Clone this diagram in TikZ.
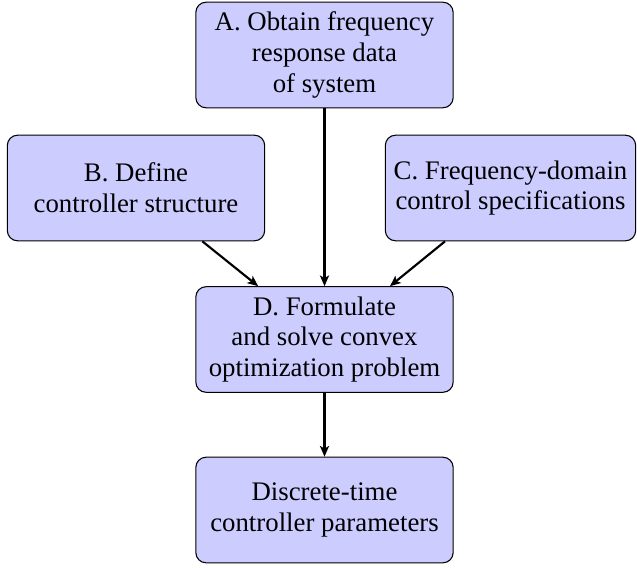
\documentclass[tikz,border=0pt]{standalone}
\usepackage{fontspec}
\setmainfont{LiberationSerif}[Extension=.ttf, UprightFont=*-Regular, BoldFont=*-Bold, ItalicFont=*-Italic, BoldItalicFont=*-BoldItalic]
\usetikzlibrary{arrows.meta}
\begin{document}
\begin{tikzpicture}[x=0.37313pt, y=-0.37313pt,
  stepbox/.style={draw=black, line width=0.4pt, fill=blue!20, rounded corners=3.8pt,
    align=center, minimum width=96pt, minimum height=39.4pt, inner sep=2pt,
    font=\fontsize{10}{11.5}\selectfont},
  conn/.style={thick, -{Stealth[length=4pt,width=3.4pt,inset=1pt]}}]
\useasboundingbox (0,0) rectangle (637,567);
\node[stepbox] (A) at (324.5,55) {A. Obtain frequency\\response data\\of system};
\node[stepbox] (B) at (136,188) {B. Define\\controller structure};
\node[stepbox, minimum width=93.4pt] (C) at (510.5,188) {C. Frequency-domain\\control specifications};
\node[stepbox] (D) at (324.5,339.5) {D. Formulate\\and solve convex\\optimization problem};
\node[stepbox] (E) at (324.5,510) {Discrete-time\\controller parameters};
\draw[conn] (A) -- (D);
\draw[conn] (B) -- (D);
\draw[conn] (C) -- (D);
\draw[conn] (D) -- (E);
\end{tikzpicture}
\end{document}
